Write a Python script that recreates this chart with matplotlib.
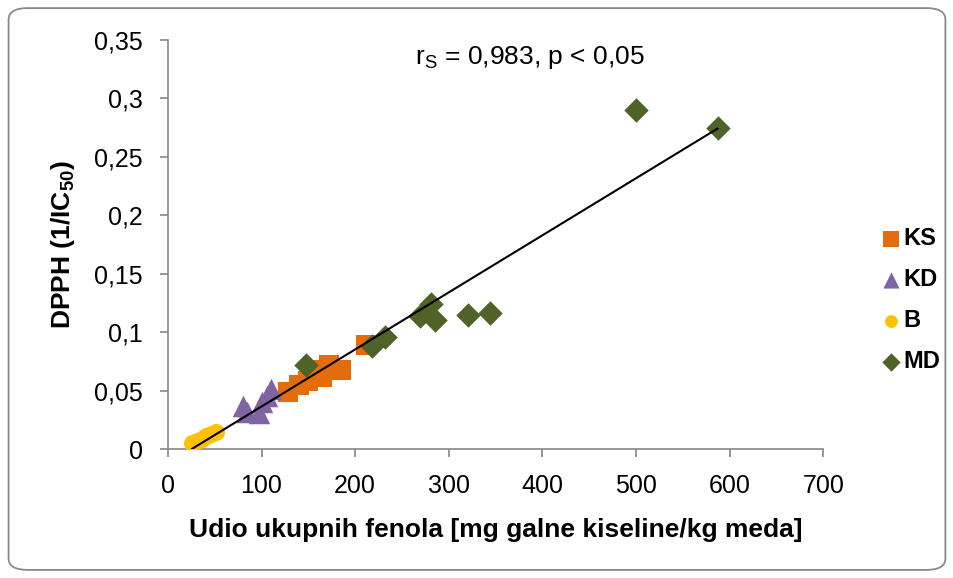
import matplotlib.pyplot as plt
import numpy as np
from matplotlib.patches import FancyBboxPatch

plt.rcParams['font.family'] = ['Liberation Sans', 'DejaVu Sans']
plt.rcParams['mathtext.fontset'] = 'custom'
plt.rcParams['mathtext.rm'] = 'Liberation Sans'
plt.rcParams['mathtext.bf'] = 'Liberation Sans:bold'

# podaci (ocitani sa slike)
ks_x = [128, 140, 150, 158, 165, 172, 185, 212]
ks_y = [0.049, 0.055, 0.058, 0.068, 0.062, 0.072, 0.068, 0.089]

kd_x = [80, 85, 97, 100, 106, 110]
kd_y = [0.037, 0.032, 0.031, 0.040, 0.045, 0.051]

b_x = [26, 31, 36, 41, 46, 51]
b_y = [0.005, 0.007, 0.009, 0.011, 0.013, 0.015]

md_x = [147, 218, 232, 269, 281, 285, 320, 344, 500, 587]
md_y = [0.072, 0.088, 0.096, 0.114, 0.124, 0.110, 0.115, 0.116, 0.290, 0.275]

y_ticks = [0, 0.05, 0.1, 0.15, 0.2, 0.25, 0.3, 0.35]
y_tick_labels = ['0', '0,05', '0,1', '0,15', '0,2', '0,25', '0,3', '0,35']
x_ticks = [0, 100, 200, 300, 400, 500, 600, 700]

fig = plt.figure(figsize=(9.54, 5.78), dpi=100)
ax = fig.add_axes([0.176, 0.223, 0.687, 0.708])

ax.scatter(ks_x, ks_y, marker='s', s=220, color='#E46C0A', label='KS', zorder=3, linewidths=0)
ax.scatter(kd_x, kd_y, marker='^', s=240, color='#8064A2', label='KD', zorder=3, linewidths=0)
ax.scatter(b_x, b_y, marker='o', s=150, color='#FFC000', label='B', zorder=3, linewidths=0)
ax.scatter(md_x, md_y, marker='D', s=155, color='#4F6228', label='MD', zorder=3, linewidths=0)

# linearni trend preko svih tocaka
all_x = np.array(ks_x + kd_x + b_x + md_x)
all_y = np.array(ks_y + kd_y + b_y + md_y)
k, n = np.polyfit(all_x, all_y, 1)
lx = np.array([all_x.min(), all_x.max()])
ax.plot(lx, k * lx + n, color='black', lw=1.5, zorder=4)

ax.set_xlim(0, 700)
ax.set_ylim(0, 0.35)
ax.set_xticks(x_ticks)
ax.set_yticks(y_ticks)
ax.set_yticklabels(y_tick_labels)
ax.tick_params(labelsize=18, color='#868686', length=6, width=1.2, pad=12)
for s in ['top', 'right']:
    ax.spines[s].set_visible(False)
for s in ['left', 'bottom']:
    ax.spines[s].set_color('#868686')
    ax.spines[s].set_linewidth(1.2)

ax.set_xlabel('Udio ukupnih fenola [mg galne kiseline/kg meda]', fontsize=19,
              fontweight='bold', labelpad=14)
ax.set_ylabel(r'DPPH (1/IC$_\mathbf{50}$)', fontsize=19, fontweight='bold', labelpad=12)

ax.text(387, 0.335, r'r$_\mathregular{S}$ = 0,983, p < 0,05', fontsize=19, ha='center', va='center')

leg = fig.legend(loc='center left', bbox_to_anchor=(0.9245, 0.481), frameon=False,
                 prop={'weight': 'bold', 'size': 17}, markerscale=0.75,
                 borderpad=0, borderaxespad=0,
                 handletextpad=0.1, handlelength=0.8, labelspacing=0.76)

border = FancyBboxPatch((0.009, 0.014), 0.982, 0.972, boxstyle='round,pad=0,rounding_size=0.02',
                        transform=fig.transFigure, facecolor='none', edgecolor='#8a8a8a', lw=1.3)
fig.patches.append(border)

fig.savefig('out.png', dpi=100)
